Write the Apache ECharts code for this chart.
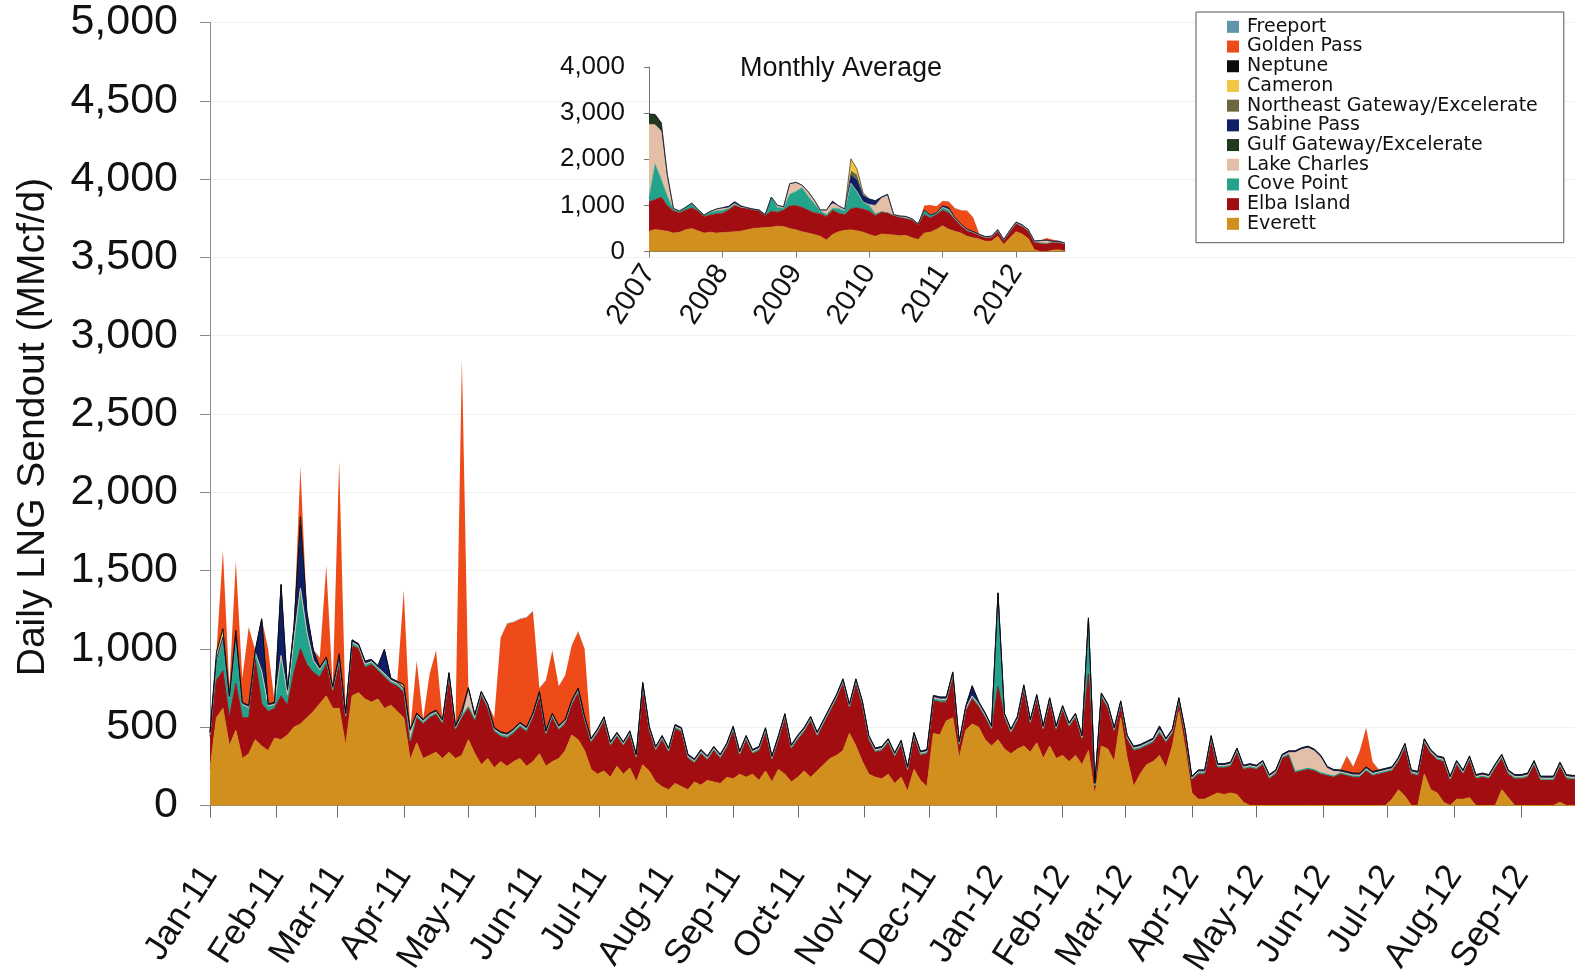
<!DOCTYPE html>
<html>
<head>
<meta charset="utf-8">
<title>Daily LNG Sendout</title>
<script src="https://cdn.jsdelivr.net/npm/echarts@6/dist/echarts.min.js"></script>
<style>
  html, body { margin: 0; padding: 0; background: #ffffff; }
  #chart { width: 1575px; height: 974px; }
</style>
</head>
<body>
<div id="chart"></div>
<script>
// ---------- tick labels ----------
const monthNames = ['Jan', 'Feb', 'Mar', 'Apr', 'May', 'Jun', 'Jul', 'Aug', 'Sep', 'Oct', 'Nov', 'Dec'];
const insetYears = [2007, 2008, 2009, 2010, 2011, 2012];

// ---------- daily sendout, MMcf/d, one value every 3 days from 1 Jan 2011 ----------
const sampleStart = [2011, 0, 1];
const sampleStepDays = 3;

const everett = [
  230,560,620,380,480,300,330,420,380,350,430,
  420,450,500,520,560,600,650,700,620,
  620,380,700,720,680,660,680,620,640,600,560,
  290,400,300,320,340,300,340,300,320,420,
  330,260,300,240,280,250,280,300,250,280,
  330,250,280,300,350,450,420,350,230,200,
  220,180,250,200,240,150,260,220,150,120,
  100,140,120,100,150,130,160,150,140,180,
  170,200,180,200,160,220,150,230,200,150,
  180,220,180,220,260,300,320,350,460,380,280,
  200,180,170,200,140,180,90,230,160,120,
  460,450,540,560,300,480,520,500,420,380,
  420,360,330,360,380,340,400,300,380,300,
  320,280,320,260,350,60,380,360,280,560,
  300,120,200,260,280,320,240,380,600,360,
  80,40,40,60,80,70,80,70,20,0,
  0,0,0,0,0,0,0,0,0,0,0,
  0,0,0,0,0,0,0,0,0,0,
  40,100,60,0,0,200,100,80,20,0,
  40,40,50,0,0,0,0,100,50,0,
  0,0,0,0,0,0,20,0,0,0
];
const elbaIsland = [
  210,240,240,180,300,260,230,510,270,250,190,
  280,190,350,480,340,250,170,200,100,
  280,180,320,280,200,240,180,200,140,160,160,
  110,160,220,240,240,220,480,180,240,200,
  210,440,320,230,160,180,180,200,220,280,
  370,200,280,180,170,190,300,190,170,260,
  320,200,190,180,210,150,500,260,200,300,
  240,350,350,200,120,200,130,200,160,190,
  310,120,240,130,190,250,140,190,360,210,
  240,250,360,220,260,300,360,430,160,400,360,
  220,160,180,200,170,210,130,210,160,210,
  210,210,120,260,80,120,160,130,140,100,
  340,200,130,180,360,180,280,180,280,180,
  290,220,240,160,490,60,310,260,190,80,
  120,230,160,120,120,140,160,80,60,90,
  80,160,160,360,160,170,170,270,210,240,
  230,260,170,200,300,320,210,220,230,220,200,
  190,180,200,190,180,180,220,190,200,210,
  180,180,310,200,190,200,230,210,260,160,
  220,160,240,170,180,170,240,200,150,170,
  170,180,260,160,160,160,230,170,165,165
];
const covePoint = [
  10,120,200,120,290,80,60,40,200,30,20,
  250,60,200,380,200,70,40,30,20,
  30,10,15,12,15,12,12,15,12,12,12,
  15,12,12,10,10,10,10,10,12,12,
  10,10,10,10,12,12,12,12,12,12,
  10,10,10,12,12,12,12,10,10,10,
  8,8,8,8,8,8,8,8,8,8,
  8,8,8,8,8,8,8,8,8,8,
  8,8,8,8,8,8,8,8,8,8,
  10,10,10,10,10,10,10,10,10,10,10,
  8,8,8,8,8,8,8,8,8,8,
  12,12,12,12,10,12,12,12,12,10,
  580,10,10,10,12,10,10,10,10,10,
  10,10,10,10,340,5,10,10,10,10,
  10,10,10,10,10,15,10,10,10,10,
  8,8,8,8,8,8,8,8,8,8,
  8,8,8,8,8,8,8,8,8,8,8,
  8,8,8,8,8,8,8,8,8,8,
  8,8,8,8,8,8,8,8,8,8,
  8,8,8,8,8,8,8,8,8,8,
  8,8,8,8,8,8,8,8,8,8
];
const lakeCharles = [
  8,8,8,8,8,8,8,8,8,8,8,
  8,8,8,8,8,8,8,8,8,
  8,8,8,8,8,8,8,8,8,8,8,
  60,8,8,8,8,8,8,8,8,110,
  20,8,8,8,8,8,8,8,8,8,
  8,8,8,8,8,8,8,8,8,8,
  8,8,8,8,8,8,8,8,8,8,
  8,8,8,8,8,8,8,8,8,8,
  8,8,8,8,8,8,8,8,8,8,
  8,8,8,8,8,8,8,8,8,8,8,
  8,8,8,8,8,8,8,8,8,8,
  8,8,8,8,8,8,8,8,8,8,
  8,8,8,8,8,8,8,8,8,8,
  8,8,8,8,8,8,8,8,8,8,
  8,8,8,8,8,8,8,8,8,8,
  8,8,8,8,8,8,8,8,8,8,
  8,8,8,8,8,10,120,130,130,120,100,
  40,30,8,8,8,8,8,8,8,8,
  8,8,8,8,8,8,8,8,8,8,
  8,8,8,8,8,8,8,8,8,8,
  8,8,8,8,8,8,8,8,8,8
];
const sabinePass = [
  6,6,6,6,6,6,6,6,330,6,6,
  450,30,80,400,120,60,10,6,6,
  6,6,10,8,15,8,8,150,8,8,8,
  6,6,6,6,6,6,6,6,6,6,
  6,6,6,6,6,6,6,6,6,6,
  6,6,6,6,6,6,6,6,6,6,
  6,6,6,6,6,6,6,6,6,6,
  6,6,6,6,6,6,6,6,6,6,
  6,6,6,6,6,6,6,6,6,6,
  6,6,6,6,6,6,6,6,6,6,6,
  6,6,6,6,6,6,6,6,6,6,
  8,8,8,8,6,8,60,10,8,6,
  6,6,6,6,6,6,6,6,6,6,
  6,6,6,6,6,6,6,6,6,6,
  6,6,6,6,6,20,6,6,6,6,
  6,6,6,6,6,6,6,6,6,6,
  6,6,6,6,6,6,6,6,6,6,6,
  6,6,6,6,6,6,6,6,6,6,
  6,6,6,6,6,6,6,6,6,6,
  6,6,6,6,6,6,6,6,6,6,
  6,6,6,6,6,6,6,6,6,6
];
const neptune = [
  5,5,5,5,5,5,5,5,5,5,5,
  5,5,5,5,5,5,5,5,5,
  5,5,5,5,5,5,5,5,5,5,5,
  5,5,5,5,5,5,5,5,5,5,
  5,5,5,5,5,5,5,5,5,5,
  5,5,5,5,5,5,5,5,5,5,
  5,5,5,5,5,5,5,5,5,5,
  5,5,5,5,5,5,5,5,5,5,
  5,5,5,5,5,5,5,5,5,5,
  5,5,5,5,5,5,5,5,5,5,5,
  5,5,5,5,5,5,5,5,5,5,
  5,5,5,5,5,5,5,5,5,5,
  5,5,5,5,5,5,5,5,5,5,
  5,5,5,5,5,5,5,5,5,5,
  5,5,5,5,5,5,5,5,5,5,
  5,5,5,5,5,5,5,5,5,5,
  5,5,5,5,5,5,5,5,5,5,5,
  5,5,5,5,5,5,5,5,5,5,
  5,5,5,5,5,5,5,5,5,5,
  5,5,5,5,5,5,5,5,5,5,
  5,5,5,5,5,5,5,5,5,5
];
const cameron = [
  0,40,50,0,30,0,0,0,0,0,0,
  0,0,0,50,0,0,0,0,0,
  20,0,0,0,0,0,0,0,0,0,20,
  0,0,0,0,0,0,0,0,20,0,
  0,0,0,0,0,0,0,0,0,0,
  0,0,0,0,0,0,0,0,0,0,
  0,0,0,0,0,0,0,0,0,0,
  0,0,0,0,0,0,0,0,0,0,
  0,0,0,0,0,0,0,0,0,0,
  0,0,0,0,0,0,0,0,0,0,0,
  0,0,0,0,0,0,0,0,0,0,
  0,0,0,0,0,0,0,0,0,0,
  0,0,0,0,0,0,0,0,0,0,
  0,0,0,0,0,0,0,0,0,0,
  0,0,0,0,0,0,0,0,0,0,
  0,0,0,0,0,0,0,0,0,0,
  0,0,0,0,0,0,0,0,0,0,0,
  0,0,0,0,0,0,0,0,0,0,
  0,0,0,0,0,0,0,0,0,0,
  0,0,0,0,0,0,0,0,0,0,
  0,0,0,0,0,0,0,0,0,0
];
const goldenPass = [
  0,0,500,60,440,150,500,0,0,350,0,
  0,0,0,320,0,0,60,580,0,
  1230,0,0,0,0,0,0,0,0,0,600,
  0,330,0,250,380,0,0,0,2240,0,
  0,0,0,60,600,700,680,660,700,650,
  20,320,400,250,280,350,360,430,0,0,
  0,0,0,0,0,0,0,0,0,0,
  0,0,0,0,0,0,0,0,0,0,
  0,0,0,0,0,0,0,0,0,0,
  0,0,0,0,0,0,0,0,0,0,0,
  0,0,0,0,0,0,0,0,0,0,
  0,0,0,0,0,0,0,0,0,0,
  0,0,0,0,0,0,0,0,0,0,
  0,0,0,0,0,0,0,0,0,0,
  0,0,0,0,0,0,0,0,0,0,
  0,0,0,0,0,0,0,0,0,0,
  0,0,0,0,0,0,0,0,0,0,0,
  0,0,0,100,40,140,250,60,0,0,
  0,0,0,0,0,0,0,0,0,0,
  0,0,0,0,0,0,0,0,0,0,
  0,0,0,0,0,0,0,0,0,0
];
const freeport = [
  3,3,3,3,3,3,3,3,3,3,3,
  3,3,3,3,3,3,3,3,3,
  3,3,3,3,3,3,3,3,3,3,3,
  3,3,3,3,3,3,3,3,3,3,
  3,3,3,3,3,3,3,3,3,3,
  3,3,3,3,3,3,3,3,3,3,
  3,3,3,3,3,3,3,3,3,3,
  3,3,3,3,3,3,3,3,3,3,
  3,3,3,3,3,3,3,3,3,3,
  3,3,3,3,3,3,3,3,3,3,3,
  3,3,3,3,3,3,3,3,3,3,
  3,3,3,3,3,3,3,3,3,3,
  3,3,3,3,3,3,3,3,3,3,
  3,3,3,3,3,3,3,3,3,3,
  3,3,3,3,3,3,3,3,3,3,
  3,3,3,3,3,3,3,3,3,3,
  3,3,3,3,3,3,3,3,3,3,3,
  3,3,3,3,3,3,3,3,3,3,
  3,3,3,3,3,3,3,3,3,3,
  3,3,3,3,3,3,3,3,3,3,
  3,3,3,3,3,3,3,3,3,3
];
const gulfGateway = [];
const northeastGateway = [];

// ---------- monthly averages, MMcf/d, Jan 2007 - Sep 2012 ----------
const insetEverett = [
  440,475,460,440,400,420,470,500,450,400,420,400,
  410,420,430,440,470,500,510,520,530,550,540,500,
  470,430,400,370,330,250,370,430,460,470,450,420,
  370,330,380,370,360,340,350,300,260,400,420,480,
  560,480,440,400,330,300,270,220,230,330,150,300,
  430,380,280,40,0,0,30,40,10
];
const insetElbaIsland = [
  640,655,720,560,480,420,430,450,430,360,370,420,
  420,480,570,520,460,400,370,260,350,300,360,490,
  530,530,500,470,490,510,530,400,340,460,500,500,
  510,450,480,470,420,400,370,380,320,400,310,320,
  340,360,260,160,120,110,80,80,80,110,90,130,
  170,160,160,160,180,170,170,160,150
];
const insetCovePoint = [
  80,760,380,200,30,30,60,100,30,30,60,60,
  60,30,20,0,20,20,20,20,300,100,40,250,
  300,420,300,200,60,40,40,100,80,550,350,150,
  120,40,0,0,0,10,0,20,20,100,60,40,
  50,60,15,10,10,5,5,5,5,10,5,10,
  15,15,10,5,5,5,5,5,5
];
const insetLakeCharles = [
  1600,860,1050,400,20,10,0,0,0,0,20,40,
  40,20,20,0,0,0,0,0,0,50,30,230,
  200,60,100,80,20,100,100,60,40,0,0,0,
  20,180,300,380,20,20,20,10,0,0,0,0,
  10,10,10,10,10,5,5,5,5,10,5,10,
  10,10,10,10,40,60,5,5,5
];
const insetGulfGateway = [
  220,220,180,60,0,0,0,0,0,0,0,0,
  0,0,0,0,0,0,0,0,0,0,0,0,
  0,0,0,0,0,0,0,0,0,0,0,0,
  0,0,0,0,0,0,0,0,0,0,0,0,
  0,0,0,0,0,0,0,0,0,0,0,0,
  0,0,0,0,0,0,0,0,0
];
const insetSabinePass = [
  0,0,0,0,0,0,0,0,0,0,0,0,
  20,30,40,30,0,0,0,0,0,0,0,0,
  0,0,0,0,0,0,50,0,0,180,250,150,
  120,100,20,20,0,0,20,0,0,0,0,0,
  30,40,10,10,10,10,10,10,10,10,10,10,
  10,10,10,10,10,10,10,10,10
];
const insetNortheastGateway = [
  0,0,0,0,0,0,0,0,0,0,0,0,
  0,0,0,0,0,0,0,0,0,0,0,0,
  0,0,0,0,0,0,0,0,0,100,120,20,
  0,0,0,0,0,0,0,0,0,0,0,0,
  0,0,0,0,0,0,0,0,0,0,0,0,
  0,0,0,0,0,0,0,0,0
];
const insetCameron = [
  0,0,0,0,0,0,0,0,0,0,0,0,
  0,0,0,0,0,0,0,0,0,0,0,0,
  0,0,0,0,0,0,0,0,0,250,120,30,
  0,0,0,0,0,0,0,0,0,0,0,0,
  0,0,0,0,0,0,0,0,0,0,0,0,
  0,0,0,0,0,0,0,0,0
];
const insetNeptune = [
  0,0,0,0,0,0,0,0,0,0,0,0,
  0,0,0,0,0,0,0,0,0,0,0,0,
  0,0,0,0,0,0,0,0,0,0,0,0,
  0,0,0,0,0,0,0,0,0,0,0,0,
  5,5,5,5,5,5,5,5,5,5,5,5,
  5,5,5,5,5,5,5,5,5
];
const insetGoldenPass = [
  0,0,0,0,0,0,0,0,0,0,0,0,
  0,0,0,0,0,0,0,0,0,0,0,0,
  0,0,0,0,0,0,0,0,0,0,0,0,
  0,0,0,0,0,0,0,0,0,100,220,140,
  100,130,200,300,400,300,0,0,0,0,0,0,
  0,0,0,0,0,40,30,0,0
];
const insetFreeport = [
  0,0,0,0,0,0,0,0,0,0,0,0,
  0,0,0,0,0,0,0,0,0,0,0,0,
  0,0,0,0,0,0,0,0,0,0,0,0,
  0,0,0,0,0,0,0,0,0,0,0,0,
  3,3,3,3,3,3,3,3,3,3,3,3,
  3,3,3,3,3,3,3,3,3
];

// ---------- series order & styling ----------
const stackOrder = [
  'Everett', 'Elba Island', 'Cove Point', 'Lake Charles', 'Gulf Gateway/Excelerate',
  'Sabine Pass', 'Northeast Gateway/Excelerate', 'Cameron', 'Neptune', 'Golden Pass', 'Freeport'
];
const legendOrder = stackOrder.slice().reverse();

const palette = {
  'Freeport': '#6094ab',
  'Golden Pass': '#ee4b18',
  'Neptune': '#0b0b0b',
  'Cameron': '#f1c644',
  'Northeast Gateway/Excelerate': '#6d673f',
  'Sabine Pass': '#0e1f66',
  'Gulf Gateway/Excelerate': '#1e391c',
  'Lake Charles': '#e2bfa6',
  'Cove Point': '#22a38b',
  'Elba Island': '#a20d12',
  'Everett': '#d18f1e'
};
const edgeWidth = {
  'Freeport': 0, 'Golden Pass': 0, 'Neptune': 1, 'Cameron': 0,
  'Northeast Gateway/Excelerate': 0, 'Sabine Pass': 1, 'Gulf Gateway/Excelerate': 0,
  'Lake Charles': 1, 'Cove Point': 1, 'Elba Island': 1, 'Everett': 1
};

const dailyByName = {
  'Everett': everett, 'Elba Island': elbaIsland, 'Cove Point': covePoint,
  'Lake Charles': lakeCharles, 'Gulf Gateway/Excelerate': gulfGateway,
  'Sabine Pass': sabinePass, 'Northeast Gateway/Excelerate': northeastGateway,
  'Cameron': cameron, 'Neptune': neptune, 'Golden Pass': goldenPass, 'Freeport': freeport
};
const monthlyByName = {
  'Everett': insetEverett, 'Elba Island': insetElbaIsland, 'Cove Point': insetCovePoint,
  'Lake Charles': insetLakeCharles, 'Gulf Gateway/Excelerate': insetGulfGateway,
  'Sabine Pass': insetSabinePass, 'Northeast Gateway/Excelerate': insetNortheastGateway,
  'Cameron': insetCameron, 'Neptune': insetNeptune, 'Golden Pass': insetGoldenPass, 'Freeport': insetFreeport
};

// sample dates for the daily arrays
const sampleDates = everett.map((_, i) =>
  new Date(sampleStart[0], sampleStart[1], sampleStart[2] + i * sampleStepDays).getTime());

// month keys for the inset category axis
const monthKeys = [];
insetYears.forEach(y => monthNames.forEach((m, mi) => monthKeys.push(y + '-' + (mi + 1))));
monthKeys.length = insetEverett.length;

const FONT = '"Liberation Sans", Arial, Helvetica, sans-serif';
const DAY = 86400000;

function areaSeries(name, data, stackId, axisIndex, widthScale) {
  return {
    name: name,
    type: 'line',
    stack: stackId,
    xAxisIndex: axisIndex,
    yAxisIndex: axisIndex,
    symbol: 'none',
    showSymbol: false,
    silent: true,
    animation: false,
    lineStyle: { width: edgeWidth[name] * widthScale, color: palette[name] },
    areaStyle: { color: palette[name], opacity: 1 },
    itemStyle: { color: palette[name] },
    emphasis: { disabled: true },
    data: data
  };
}

const series = [];
stackOrder.forEach(name => {
  const vals = dailyByName[name];
  series.push(areaSeries(name, vals.map((v, i) => [sampleDates[i], v]), 'daily', 0, 1));
});
stackOrder.forEach(name => {
  series.push(areaSeries(name, monthlyByName[name].slice(), 'monthly', 1, 0.6));
});

const option = {
  backgroundColor: '#ffffff',
  animation: false,
  title: {
    text: 'Monthly Average',
    left: 740,
    top: 55,
    padding: 0,
    textStyle: { fontFamily: FONT, fontSize: 27, fontWeight: 'normal', color: '#111' }
  },
  legend: {
    orient: 'vertical',
    left: 1196,
    top: 12,
    data: legendOrder,
    icon: 'rect',
    itemWidth: 12,
    itemHeight: 12,
    itemGap: 0,
    selectedMode: false,
    padding: [5, 26, 9, 31],
    borderColor: '#555555',
    borderWidth: 1,
    backgroundColor: '#ffffff',
    textStyle: { fontFamily: '"DejaVu Sans", sans-serif', fontSize: 19, color: '#111', lineHeight: 19.7, padding: [0, 0, 0, 3] }
  },
  grid: [
    { left: 210, right: 0, top: 22.5, bottom: 168.5, outerBoundsMode: 'none', containLabel: false },
    { left: 649, right: 510, top: 67, bottom: 722.5, outerBoundsMode: 'none', containLabel: false }
  ],
  xAxis: [
    {
      type: 'time',
      gridIndex: 0,
      min: new Date(2011, 0, 1).getTime(),
      max: new Date(2012, 8, 26).getTime(),
      splitNumber: 21,
      minInterval: 28 * DAY,
      maxInterval: 31 * DAY,
      axisLine: { show: true, lineStyle: { color: '#8a8a8a', width: 1 } },
      axisTick: { show: true, length: 12, lineStyle: { color: '#6a6a6a', width: 1 } },
      splitLine: { show: false },
      axisLabel: {
        rotate: 57,
        margin: 64,
        fontFamily: FONT,
        fontSize: 35,
        color: '#111',
        showMaxLabel: false,
        hideOverlap: false,
        formatter: function (v) {
          const d = new Date(v);
          return monthNames[d.getMonth()] + '-' + String(d.getFullYear()).slice(2);
        }
      }
    },
    {
      type: 'category',
      gridIndex: 1,
      data: monthKeys,
      boundaryGap: false,
      axisLine: { show: true, lineStyle: { color: '#7a7a7a', width: 1 } },
      axisTick: { show: true, length: 6, interval: (i) => i % 12 === 0, lineStyle: { color: '#7a7a7a' } },
      splitLine: { show: false },
      axisLabel: {
        interval: (i) => i % 12 === 0,
        rotate: 57,
        margin: 16,
        fontFamily: FONT,
        fontSize: 29,
        color: '#111',
        formatter: (v) => v.slice(0, 4)
      }
    }
  ],
  yAxis: [
    {
      type: 'value',
      gridIndex: 0,
      min: 0,
      max: 5000,
      interval: 500,
      name: 'Daily LNG Sendout (MMcf/d)',
      nameLocation: 'middle',
      nameRotate: 90,
      nameGap: 157,
      nameTextStyle: { fontFamily: FONT, fontSize: 39, color: '#111', padding: [0, 26, 0, 0] },
      axisLine: { show: true, lineStyle: { color: '#8a8a8a', width: 1 } },
      axisTick: { show: true, length: 10, lineStyle: { color: '#8a8a8a' } },
      splitLine: { show: true, lineStyle: { color: '#f1f1f1', width: 1 } },
      axisLabel: {
        margin: 32,
        fontFamily: FONT,
        fontSize: 43,
        color: '#111',
        formatter: (v) => v.toLocaleString('en-US')
      }
    },
    {
      type: 'value',
      gridIndex: 1,
      min: 0,
      max: 4000,
      interval: 1000,
      axisLine: { show: true, lineStyle: { color: '#777777', width: 1 } },
      axisTick: { show: true, length: 5, lineStyle: { color: '#777777' } },
      splitLine: { show: false },
      axisLabel: {
        margin: 24,
        fontFamily: FONT,
        fontSize: 26,
        color: '#111',
        formatter: (v) => v.toLocaleString('en-US')
      }
    }
  ],
  series: series
};

const chart = echarts.init(document.getElementById('chart'), null, { renderer: 'canvas' });
chart.setOption(option);
</script>
</body>
</html>
